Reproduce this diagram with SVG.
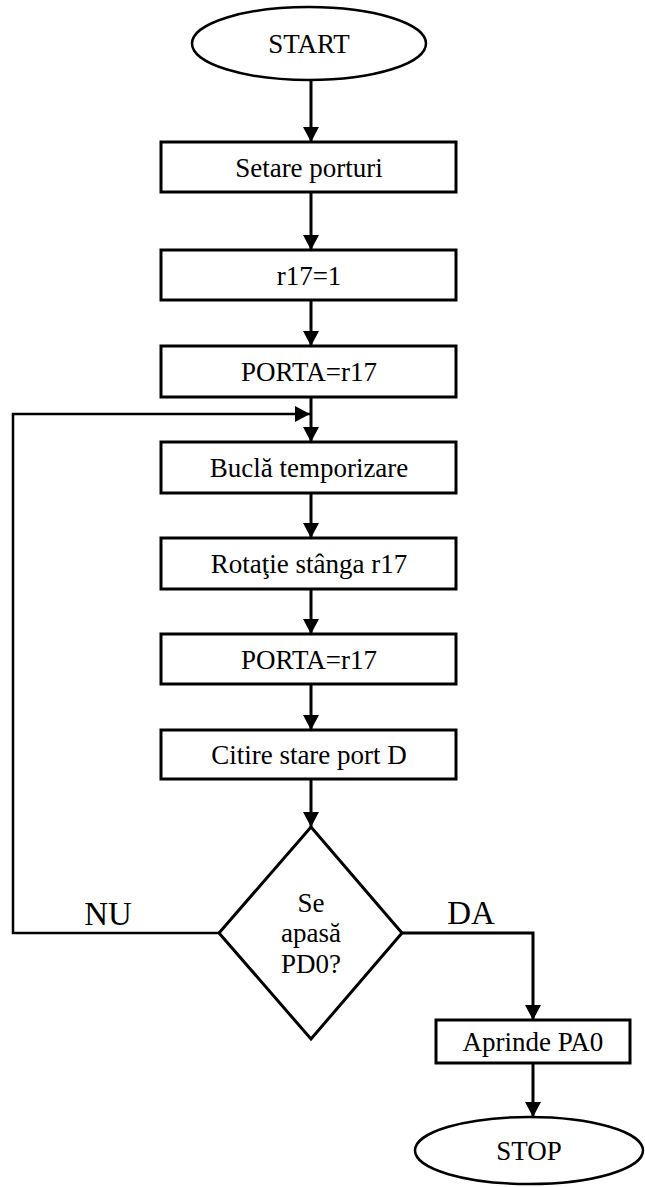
<svg xmlns="http://www.w3.org/2000/svg" width="645" height="1187" viewBox="0 0 645 1187">
<style>
.shape{fill:#fff;stroke:#000;stroke-width:3}
.term{fill:#fff;stroke:#000;stroke-width:2.5}
.t{font-family:"Liberation Serif","Times New Roman",serif;font-size:27px;text-anchor:middle;fill:#000}
.lbl{font-family:"Liberation Serif","Times New Roman",serif;font-size:33px;text-anchor:middle;fill:#000}
.c{fill:none;stroke:#000;stroke-width:3}
.c2{fill:none;stroke:#000;stroke-width:2.5}
</style>
<defs>
<marker id="ah" viewBox="0 0 15 16" refX="15" refY="8" markerWidth="15" markerHeight="16" markerUnits="userSpaceOnUse" orient="auto">
<path d="M0,0 L15,8 L0,16 z" fill="#000"/>
</marker>
</defs>
<g id="connectors">
<path class="c" d="M311,80 V142" marker-end="url(#ah)"/>
<path class="c" d="M311,192 V250" marker-end="url(#ah)"/>
<path class="c" d="M311,300 V346" marker-end="url(#ah)"/>
<path class="c" d="M311,397 V442" marker-end="url(#ah)"/>
<path class="c" d="M311,493 V538" marker-end="url(#ah)"/>
<path class="c" d="M311,589 V634" marker-end="url(#ah)"/>
<path class="c" d="M311,684 V730" marker-end="url(#ah)"/>
<path class="c" d="M311,779 V827" marker-end="url(#ah)"/>
<path class="c2" d="M219,933 H13 V414 H310" marker-end="url(#ah)"/>
<path class="c" d="M402,933 H533 V1020" marker-end="url(#ah)"/>
<path class="c" d="M533,1063 V1117" marker-end="url(#ah)"/>
<text class="lbl" x="108" y="925">NU</text>
<text class="lbl" x="471" y="924">DA</text>
</g>
<g id="start">
<ellipse class="term" cx="309" cy="43.5" rx="117" ry="36.5"/>
<text class="t" x="309" y="53">START</text>
</g>
<g id="setare">
<rect class="shape" x="161" y="142" width="295" height="50"/>
<text class="t" x="309" y="177">Setare porturi</text>
</g>
<g id="r17">
<rect class="shape" x="161" y="250" width="295" height="50"/>
<text class="t" x="309" y="285">r17=1</text>
</g>
<g id="porta1">
<rect class="shape" x="161" y="346" width="295" height="51"/>
<text class="t" x="309" y="381">PORTA=r17</text>
</g>
<g id="bucla">
<rect class="shape" x="161" y="442" width="295" height="51"/>
<text class="t" x="309" y="477">Buclă temporizare</text>
</g>
<g id="rotatie">
<rect class="shape" x="161" y="538" width="295" height="51"/>
<text class="t" x="309" y="573">Rotaţie stânga r17</text>
</g>
<g id="porta2">
<rect class="shape" x="161" y="634" width="295" height="50"/>
<text class="t" x="309" y="669">PORTA=r17</text>
</g>
<g id="citire">
<rect class="shape" x="161" y="730" width="295" height="49"/>
<text class="t" x="309" y="764">Citire stare port D</text>
</g>
<g id="decizie">
<path class="shape" d="M311,827 L402,933 L311,1039 L219,933 z"/>
<text class="t" x="311" y="912">Se</text>
<text class="t" x="311" y="942">apasă</text>
<text class="t" x="311" y="973">PD0?</text>
</g>
<g id="aprinde">
<rect class="shape" x="436" y="1020" width="194" height="43"/>
<text class="t" x="533" y="1051">Aprinde PA0</text>
</g>
<g id="stop">
<ellipse class="term" cx="529" cy="1150.5" rx="114" ry="33.5"/>
<text class="t" x="529" y="1160">STOP</text>
</g>
</svg>
